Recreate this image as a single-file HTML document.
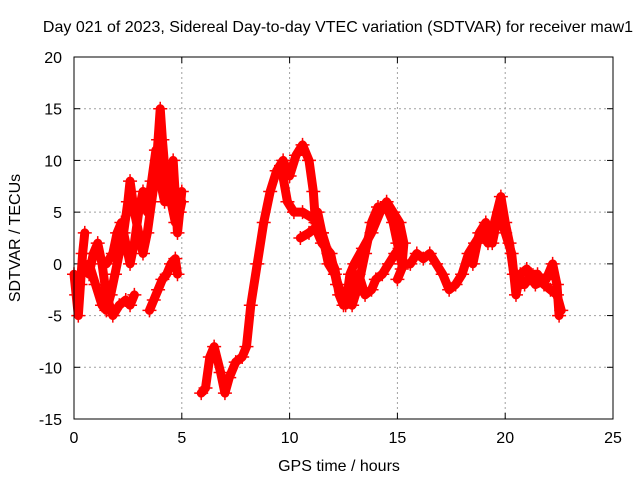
<!DOCTYPE html>
<html><head><meta charset="utf-8"><style>
body{margin:0;background:#fff}
svg{display:block;font-family:"Liberation Sans",sans-serif}
</style></head><body>
<svg id="chart" width="640" height="480" viewBox="0 0 640 480">
<rect width="640" height="480" fill="#fff"/>
<text x="338" y="32" text-anchor="middle" font-size="16">Day 021 of 2023, Sidereal Day-to-day VTEC variation (SDTVAR) for receiver maw1</text>
<g id="grid"></g>
<g id="ticks"></g>
<g id="marks"></g>
<rect x="74" y="57" width="539" height="362" fill="none" stroke="#000" stroke-width="1"/>
<text x="339" y="471" text-anchor="middle" font-size="16">GPS time / hours</text>
<text x="0" y="0" transform="translate(20,238) rotate(-90)" text-anchor="middle" font-size="16">SDTVAR / TECUs</text>
</svg>
<script>
const xTicks=[0,5,10,15,20,25];
const yTicks=[-15,-10,-5,0,5,10,15,20];
const arc1=[[0,-1],[0.1,-3],[0.2,-5],[0.3,-2],[0.4,1],[0.5,3]];
const arc2=[[0.7,-1],[0.9,1],[1.1,2],[1.3,0],[1.5,-3],[1.8,-5],[2.1,-4],[2.4,-3.5],[2.6,-4],[2.8,-3]];
const arc3=[[0.7,0],[1.0,-2],[1.3,-4],[1.5,-4.5],[1.7,-3],[1.9,-1],[2.1,1],[2.3,3],[2.5,6],[2.6,8],[2.8,5],[3.0,3],[3.2,1],[3.4,3],[3.6,6],[3.8,9],[3.9,12],[4.0,15],[4.1,12],[4.3,7],[4.5,6],[4.7,4],[4.9,5],[5.0,6]];
const arc4=[[1.5,0],[1.8,1],[2.0,3],[2.2,4],[2.4,2],[2.6,0],[2.8,2],[3.0,5],[3.2,7],[3.4,5],[3.6,8],[3.8,11],[4.0,8],[4.2,6],[4.4,6],[4.6,10],[4.8,3],[5.0,7]];
const arc5=[[3.5,-4.5],[3.7,-3.5],[3.9,-2.5],[4.1,-1.5],[4.3,-1],[4.5,0],[4.7,0.5],[4.8,-1]];
const arc6=[[5.9,-12.5],[6.1,-12],[6.3,-9],[6.5,-8],[6.8,-10.5],[7.0,-12.5],[7.2,-11],[7.5,-9.5],[7.8,-9],[8.0,-8],[8.2,-4],[8.5,0],[8.8,4],[9.1,7],[9.4,9],[9.7,10],[10.0,8.5],[10.3,10.5],[10.6,11.5],[10.9,10],[11.1,7],[11.2,4],[11.5,3],[11.8,1],[12.1,-0.5],[12.3,-3],[12.5,-4],[12.8,-3.5],[13.0,-2],[13.2,-1],[13.5,-3],[13.8,-2.5],[14.0,-1.5],[14.3,-1],[14.6,0],[14.9,1],[15.1,1.5],[15.3,0],[15.6,0],[15.9,1],[16.2,0.5],[16.5,1],[16.8,0],[17.1,-1],[17.4,-2.5],[17.7,-2],[18.0,-1],[18.3,1],[18.6,2],[18.9,3],[19.2,2],[19.5,4],[19.8,6.5],[20.0,4],[20.2,2],[20.4,-1],[20.6,-2],[20.9,-2],[21.2,-1],[21.5,-1],[21.8,-2],[22.1,-2.5],[22.4,-3],[22.6,-4.5]];
const arc7=[[9.6,9.5],[9.9,6],[10.2,5],[10.6,5],[11.0,4.5],[11.3,5],[11.5,3],[11.8,0],[12.1,-1],[12.4,-3],[12.6,-4],[12.8,-1],[13.0,0],[13.4,1.5],[13.8,3],[14.2,5],[14.5,6],[14.8,5],[15.1,4],[15.3,2],[15.2,-0.5],[15.0,-1.5]];
const arc8=[[10.5,2.5],[10.9,3],[11.2,3.5],[11.5,2],[11.9,1],[12.2,-2],[12.5,-3.5],[12.9,-4],[13.2,-2],[13.5,1],[13.8,4],[14.1,5.5],[14.5,5.5],[14.8,4],[15.0,2],[15.2,0]];
const arc9=[[18.5,0],[18.8,3],[19.1,4],[19.4,2],[19.7,5],[20.0,3],[20.3,1],[20.5,-3],[20.7,-1],[21.0,-0.5],[21.4,-2],[21.9,-1.5],[22.2,0],[22.4,-2],[22.5,-5]];
const arcs=[arc1,arc2,arc3,arc4,arc5,arc6,arc7,arc8,arc9];
const X0=74,X1=613,Y0=419,Y1=57;
const xs=v=>X0+v/25*(X1-X0);
const ys=v=>Y0-(v+15)/35*(Y0-Y1);
const NS="http://www.w3.org/2000/svg";
const grid=document.getElementById('grid'),ticks=document.getElementById('ticks'),marks=document.getElementById('marks');
function mk(t,a,p){const e=document.createElementNS(NS,t);for(const k in a)e.setAttribute(k,a[k]);p.appendChild(e);return e;}
xTicks.forEach(t=>{const x=xs(t);
 if(t>0&&t<25){const g=mk('line',{x1:x,x2:x,y1:Y1,y2:Y0,stroke:'#a0a0a0','stroke-dasharray':'2,3'},grid);
 
 }
 const l=mk('text',{x:x,y:443,'text-anchor':'middle','font-size':'16'},ticks);l.textContent=t;
 
 
 mk('line',{x1:x,x2:x,y1:Y0,y2:Y0-6,stroke:'#000'},ticks);mk('line',{x1:x,x2:x,y1:Y1,y2:Y1+6,stroke:'#000'},ticks);});
yTicks.forEach(t=>{const y=ys(t);
 if(t>-15&&t<20){const g=mk('line',{x1:X0,x2:X1,y1:y,y2:y,stroke:'#a0a0a0','stroke-dasharray':'2,3'},grid);
 
 }
 const l=mk('text',{x:62,y:y+6,'text-anchor':'end','font-size':'16'},ticks);l.textContent=t;
 
 
 mk('line',{x1:X0,x2:X0+6,y1:y,y2:y,stroke:'#000'},ticks);mk('line',{x1:X1,x2:X1-6,y1:y,y2:y,stroke:'#000'},ticks);});
arcs.forEach((arc,i)=>{
 const pl=mk('polyline',{points:arc.map(p=>xs(p[0])+','+ys(p[1])).join(' '),fill:'none',stroke:'#f00','stroke-width':'9','stroke-linejoin':'round','stroke-linecap':'round'},marks);
 
 
 arc.forEach(p=>{const x=xs(p[0]),y=ys(p[1]);
  const m=mk('path',{d:`M${x-7},${y}H${x+7}M${x},${y-7}V${y+7}`,stroke:'#f00','stroke-width':'1.5'},marks);
  
  });
});
</script>
</body></html>
